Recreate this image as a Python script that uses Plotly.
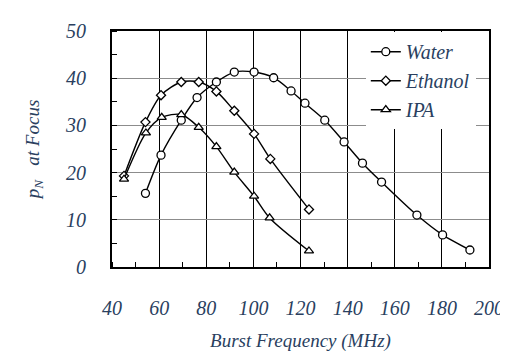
import plotly.graph_objects as go

water_x = [54.2, 60.8, 69.4, 76.1, 84.3, 91.9, 100.3, 108.6, 116.0, 121.9, 130.3, 138.5, 146.3, 154.4, 169.4, 180.3, 191.9]
water_y = [15.6, 23.7, 31.1, 35.9, 39.2, 41.3, 41.3, 40.1, 37.3, 34.7, 31.1, 26.5, 22.0, 18.0, 11.0, 6.8, 3.6]

eth_x = [45.1, 54.2, 60.8, 69.4, 76.8, 84.3, 91.9, 100.3, 107.2, 123.6]
eth_y = [19.3, 30.7, 36.4, 39.2, 39.2, 37.2, 33.1, 28.2, 22.9, 12.2]

ipa_x = [45.1, 54.4, 61.1, 69.4, 76.8, 84.3, 91.9, 100.3, 106.9, 123.6]
ipa_y = [18.6, 28.4, 31.7, 32.3, 29.6, 25.5, 20.1, 15.0, 10.4, 3.4]

x_ticks = [40, 60, 80, 100, 120, 140, 160, 180, 200]
y_ticks = [0, 10, 20, 30, 40, 50]

FONT = "Liberation Serif"

fig = go.Figure()
series = [
    ("Water", water_x, water_y, "circle", 8),
    ("Ethanol", eth_x, eth_y, "diamond", 7),
    ("IPA", ipa_x, ipa_y, "triangle-up", 8),
]
for name, xs, ys, sym, sz in series:
    fig.add_trace(go.Scatter(
        x=xs, y=ys, name="<i>" + name + "</i>", mode="lines+markers",
        line=dict(color="black", width=1.4, shape="spline", smoothing=0.8),
        marker=dict(symbol=sym, size=sz, color="white", line=dict(color="black", width=1.3)),
    ))

fig.update_layout(
    width=508, height=354,
    margin=dict(l=104, r=20, t=15, b=95),
    font=dict(family=FONT, size=20),
    plot_bgcolor="white",
    legend=dict(x=0.965, y=0.995, xanchor="right", yanchor="top",
                bgcolor="white", font=dict(family=FONT, size=20)),
)

fig.update_xaxes(
    title=dict(text="<i>Burst Frequency (MHz)</i>", font=dict(family=FONT, size=19), standoff=16),
    tickfont=dict(family=FONT, size=20), ticklabelstandoff=22,
    range=[40, 200], tickvals=x_ticks, ticktext=["<i>%d</i>" % v for v in x_ticks],
    showline=True, linecolor="black", linewidth=2, mirror=True,
    showgrid=True, gridcolor="black", gridwidth=1, zeroline=False, ticks="",
    minor=dict(dtick=10, tick0=40, ticks="inside", ticklen=5, tickcolor="black", showgrid=False),
)
fig.update_yaxes(
    title=dict(text="<i>p<sub>N</sub>   at Focus</i>", font=dict(family=FONT, size=19), standoff=20),
    tickfont=dict(family=FONT, size=20), ticklabelstandoff=20,
    range=[0, 50], tickvals=y_ticks, ticktext=["<i>%d</i>" % v for v in y_ticks],
    showline=True, linecolor="black", linewidth=2, mirror=True,
    showgrid=True, gridcolor="#8c8c8c", gridwidth=1, zeroline=False, ticks="",
    minor=dict(dtick=5, tick0=0, ticks="inside", ticklen=5, tickcolor="black", showgrid=False),
)

fig.write_html("out.html")
